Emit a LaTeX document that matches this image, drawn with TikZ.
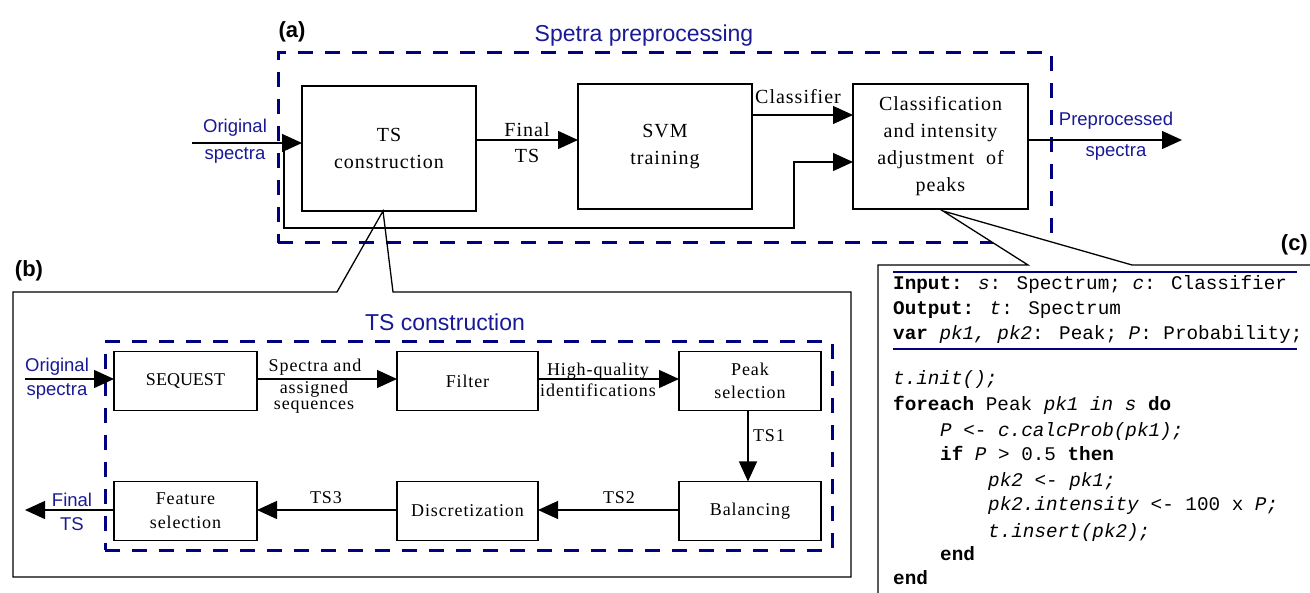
\documentclass[tikz,border=0pt]{standalone}
\usepackage{fontspec}
\setmainfont{Liberation Serif}
\newfontfamily\sansf{Liberation Sans}
\newfontfamily\monof{Liberation Mono}
\newfontfamily\boxf[LetterSpace=5]{Liberation Serif}
\newfontfamily\boxplain{Liberation Serif}
\usetikzlibrary{arrows.meta}
\definecolor{navyline}{RGB}{0,0,128}
\definecolor{navytext}{RGB}{25,25,150}
\begin{document}
\begin{tikzpicture}[x=1pt,y=-1pt,
  box/.style={draw, line width=1.3pt, inner sep=0pt, outer sep=0pt, align=center},
  abox/.style={box, font=\boxf\fontsize{20}{27}\selectfont},
  bbox/.style={box, font=\boxf\fontsize{18}{23.5}\selectfont},
  dashbox/.style={draw=navyline, line width=3pt, dash pattern=on 15pt off 12pt, inner sep=0pt, outer sep=0pt},
  conn/.style={line width=1.3pt, -{Triangle[length=20pt,width=18pt]}},
  plain/.style={line width=1.3pt},
  alabel/.style={font=\boxf\fontsize{20}{26}\selectfont, inner sep=0pt, align=center},
  blabel/.style={font=\boxf\fontsize{18}{21}\selectfont, inner sep=0pt, align=center},
  bluel/.style={text=navytext, font=\sansf\fontsize{18.5}{27}\selectfont, inner sep=0pt, align=center},
  title/.style={text=navytext, font=\sansf\fontsize{23}{27}\selectfont, inner sep=0pt},
  panel/.style={font=\sansf\bfseries\fontsize{22}{26}\selectfont, inner sep=0pt},
  code/.style={font=\monof\fontsize{19.3}{24}\selectfont, anchor=west, inner sep=0pt, text height=14pt, text depth=4pt},
  rule/.style={draw=navyline, line width=2.5pt}
]
\useasboundingbox (0,0) rectangle (1310,593);
\clip (0,0) rectangle (1310,593);

% ---------------- (a) ----------------
\node[dashbox, minimum width=773, minimum height=190] (dasha) at (664.5,148) {};
\node[panel] (pa) at (292,32) {(a)};
\node[title] (ttla) at (644,36) {Spetra preprocessing};

\node[abox, minimum width=174, minimum height=125] (tsc) at (389,148.5) {TS\\construction};
\node[abox, minimum width=174, minimum height=125] (svm) at (665,146.5) {SVM\\training};
\node[abox, minimum width=175, minimum height=125] (cls) at (940.5,146.5) {Classification\\and intensity\\adjustment~ of\\peaks};

\coordinate (ain) at (192,143);
\draw[conn] (ain) -- (ain -| tsc.west);
\coordinate (fts) at (476,140);
\draw[conn] (fts -| tsc.east) -- (fts -| svm.west);
\coordinate (clf) at (760,115);
\draw[conn] (clf -| svm.east) -- (clf -| cls.west);
\coordinate (fb0) at (284,143);
\coordinate (fb1) at (284,228);
\coordinate (fb2) at (794,228);
\coordinate (fb3) at (794,162);
\draw[conn] (fb0) -- (fb1) -- (fb2) -- (fb3) -- (fb3 -| cls.west);
\coordinate (aout) at (1182,140);
\draw[conn] (aout -| cls.east) -- (aout);

\node[bluel] (lorig) at (235,141.5) {Original\\spectra};
\node[alabel] (lfts) at (527,143) {Final\\TS};
\node[alabel] (lclf) at (798,97) {Classifier};
\node[bluel, font=\sansf\fontsize{18.5}{31}\selectfont] (lpre) at (1116,136.5) {Preprocessed\\spectra};

% ---------------- (b) ----------------
\node[panel] (pb) at (29,271) {(b)};
\coordinate (apexb) at (383,211);
\draw[plain] (apexb) -- (337,292) -- (13,292) -- (13,577) -- (851,577) -- (851,292) -- (393,292) -- cycle;

\node[dashbox, minimum width=727, minimum height=208] (dashb) at (468.5,446) {};
\node[title] (ttlb) at (445,322) {TS construction};

\node[bbox, minimum width=143, minimum height=59, font=\boxplain\fontsize{18}{23.5}\selectfont] (seq) at (185.5,381) {SEQUEST};
\node[bbox, minimum width=141, minimum height=59] (flt) at (467.5,381) {Filter};
\node[bbox, minimum width=142, minimum height=59] (pks) at (750,381) {Peak\\selection};
\node[bbox, minimum width=142, minimum height=59] (bal) at (750,511) {Balancing};
\node[bbox, minimum width=141, minimum height=59] (dsc) at (467.5,511) {Discretization};
\node[bbox, minimum width=143, minimum height=59, font=\boxf\fontsize{18}{24}\selectfont] (fsel) at (185.5,511) {Feature\\selection};

\coordinate (r1) at (25,379);
\draw[conn] (r1) -- (r1 -| seq.west);
\draw[conn] (r1 -| seq.east) -- (r1 -| flt.west);
\draw[conn] (r1 -| flt.east) -- (r1 -| pks.west);
\coordinate (c1) at (748,400);
\draw[conn] (c1 |- pks.south) -- (c1 |- bal.north);
\coordinate (r2) at (25,510);
\draw[conn] (r2 -| bal.west) -- (r2 -| dsc.east);
\draw[conn] (r2 -| dsc.west) -- (r2 -| fsel.east);
\draw[conn] (r2 -| fsel.west) -- (r2);

\node[bluel, font=\sansf\fontsize{18.5}{24}\selectfont] (lorigb) at (57,379) {Original\\spectra};
\node[blabel] (lspa) at (315,367) {Spectra and};
\node[blabel, font=\boxf\fontsize{18}{16}\selectfont] (lspb) at (314,397) {assigned\\sequences};
\node[blabel] (lhq) at (598,379.5) {High-quality\\identifications};
\node[blabel] (lts1) at (769,436) {TS1};
\node[blabel] (lts2) at (619,498) {TS2};
\node[blabel] (lts3) at (326,498) {TS3};
\node[bluel, font=\sansf\fontsize{18.5}{24}\selectfont] (lfin) at (72,511.5) {Final\\TS};

% ---------------- (c) ----------------
\coordinate (apexc) at (943,211);
\draw[plain, fill=white] (apexc) -- (1028,265) -- (878,265) -- (878,610) -- (1330,610) -- (1330,265) -- (1132,265) -- cycle;
\node[panel, anchor=east] (pc) at (1308,245) {(c)};
\coordinate (ru1a) at (893,272);
\coordinate (ru1b) at (1297,272);
\coordinate (ru2a) at (893,349);
\coordinate (ru2b) at (1297,349);
\draw[rule] (ru1a) -- (ru1b);
\draw[rule] (ru2a) -- (ru2b);

\node[code] (k1) at (893,285) {\textbf{Input:} \textit{s}: Spectrum; \textit{c}: Classifier};
\node[code] (k2) at (893,310) {\textbf{Output:} \textit{t}: Spectrum};
\node[code] (k3) at (893,335) {\textbf{var} \textit{pk1, pk2}: Peak; \textit{P}: Probability;};
\node[code] (k4) at (893,380) {\textit{t.init();}};
\node[code] (k5) at (893,406) {\textbf{foreach} Peak \textit{pk1 in s} \textbf{do}};
\node[code] (k6) at (940,432) {\textit{P} <- \textit{c.calcProb(pk1);}};
\node[code] (k7) at (940,456) {\textbf{if} \textit{P} > 0.5 \textbf{then}};
\node[code] (k8) at (988,481) {\textit{pk2} <- \textit{pk1;}};
\node[code] (k9) at (988,506) {\textit{pk2.intensity} <- 100 x \textit{P;}};
\node[code] (k10) at (988,532) {\textit{t.insert(pk2);}};
\node[code] (k11) at (940,555) {\textbf{end}};
\node[code] (k12) at (893,579) {\textbf{end}};
\end{tikzpicture}
\end{document}
